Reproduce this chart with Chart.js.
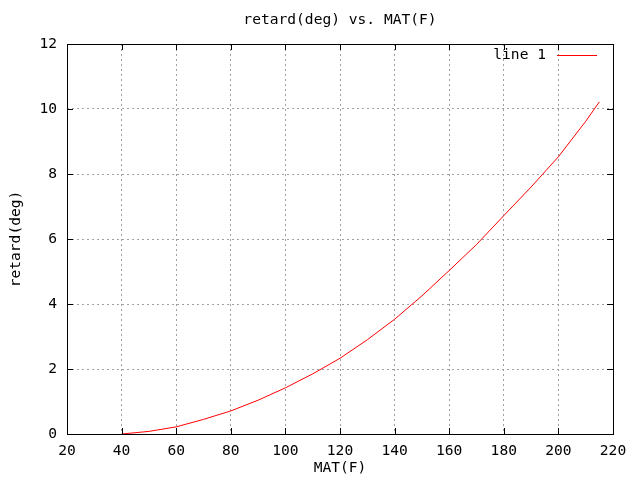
<!DOCTYPE html>
<html>
<head>
<meta charset="utf-8">
<script src="https://cdn.jsdelivr.net/npm/chart.js@4/dist/chart.umd.min.js"></script>
<style>
  html, body { margin: 0; padding: 0; background: #fff; }
  #wrap { width: 640px; height: 480px; }
</style>
</head>
<body>
<div id="wrap"><canvas id="retard-chart" width="640" height="480"></canvas></div>
<script>
// values
const matF = [40, 50, 60, 70, 80, 90, 100, 110, 120, 130, 140, 150, 160, 170, 180, 190, 200, 210, 215];
const retardDeg = [0, 0.08, 0.22, 0.45, 0.71, 1.04, 1.42, 1.85, 2.33, 2.9, 3.53, 4.25, 5.03, 5.83, 6.72, 7.6, 8.53, 9.62, 10.22];
const xTicks = [20, 40, 60, 80, 100, 120, 140, 160, 180, 200, 220];
const yTicks = [0, 2, 4, 6, 8, 10, 12];

const chartTitle = "retard(deg) vs. MAT(F)";
const xLabel = "MAT(F)";
const yLabel = "retard(deg)";
const seriesName = "line 1";

const FONT_SIZE = 14.6;
const FONT = FONT_SIZE + "px 'DejaVu Sans Mono', 'Liberation Mono', monospace";

// gnuplot style frame, inward ticks, title, axis labels and key
const gnuplotDecor = {
  id: "gnuplotDecor",
  afterDraw(chart) {
    const ctx = chart.ctx;
    const a = chart.chartArea;
    const xs = chart.scales.x;
    const ys = chart.scales.y;
    ctx.save();
    ctx.strokeStyle = "#000";
    ctx.lineWidth = 1;
    ctx.strokeRect(Math.round(a.left) + 0.5, Math.round(a.top) + 0.5,
      Math.round(a.right - a.left), Math.round(a.bottom - a.top));

    ctx.beginPath();
    xTicks.forEach(v => {
      const px = Math.round(xs.getPixelForValue(v)) + 0.5;
      ctx.moveTo(px, a.bottom); ctx.lineTo(px, a.bottom - 6);
      ctx.moveTo(px, a.top); ctx.lineTo(px, a.top + 6);
    });
    yTicks.forEach(v => {
      const py = Math.round(ys.getPixelForValue(v)) + 0.5;
      ctx.moveTo(a.left, py); ctx.lineTo(a.left + 6, py);
      ctx.moveTo(a.right, py); ctx.lineTo(a.right - 6, py);
    });
    ctx.stroke();

    ctx.fillStyle = "#000";
    ctx.font = FONT;
    ctx.textAlign = "center";
    ctx.textBaseline = "middle";
    const cx = (a.left + a.right) / 2;
    ctx.fillText(chartTitle, cx, 20);
    ctx.fillText(xLabel, cx, 468);

    ctx.save();
    ctx.translate(16, (a.top + a.bottom) / 2);
    ctx.rotate(-Math.PI / 2);
    ctx.fillText(yLabel, 0, 0);
    ctx.restore();

    // key
    ctx.textAlign = "right";
    ctx.fillText(seriesName, 546, 55);
    ctx.strokeStyle = "#ff0000";
    ctx.beginPath();
    ctx.moveTo(557, 55.5);
    ctx.lineTo(597, 55.5);
    ctx.stroke();
    ctx.restore();
  }
};

const ctx = document.getElementById("retard-chart");
new Chart(ctx, {
  type: "line",
  data: {
    datasets: [{
      label: seriesName,
      data: matF.map((x, i) => ({ x: x, y: retardDeg[i] })),
      borderColor: "#ff0000",
      borderWidth: 1,
      pointRadius: 0,
      tension: 0,
      fill: false
    }]
  },
  options: {
    responsive: false,
    animation: false,
    layout: { padding: { top: 44, right: 27, left: 0, bottom: 0 } },
    plugins: {
      legend: { display: false },
      title: { display: false },
      tooltip: { enabled: false }
    },
    scales: {
      x: {
        type: "linear",
        min: 20,
        max: 220,
        afterFit: s => { s.height = 46; },
        afterBuildTicks: s => { s.ticks = xTicks.map(v => ({ value: v })); },
        grid: { color: "#a0a0a0", drawTicks: false },
        border: { display: false, dash: [2, 3] },
        ticks: { color: "#000", font: { family: "'DejaVu Sans Mono'", size: FONT_SIZE }, padding: 8, maxRotation: 0 }
      },
      y: {
        type: "linear",
        min: 0,
        max: 12,
        afterFit: s => { s.width = 67; },
        afterBuildTicks: s => { s.ticks = yTicks.map(v => ({ value: v })); },
        grid: { color: "#a0a0a0", drawTicks: false },
        border: { display: false, dash: [2, 3] },
        ticks: { color: "#000", font: { family: "'DejaVu Sans Mono'", size: FONT_SIZE }, padding: 10 }
      }
    }
  },
  plugins: [gnuplotDecor]
});
</script>
</body>
</html>
